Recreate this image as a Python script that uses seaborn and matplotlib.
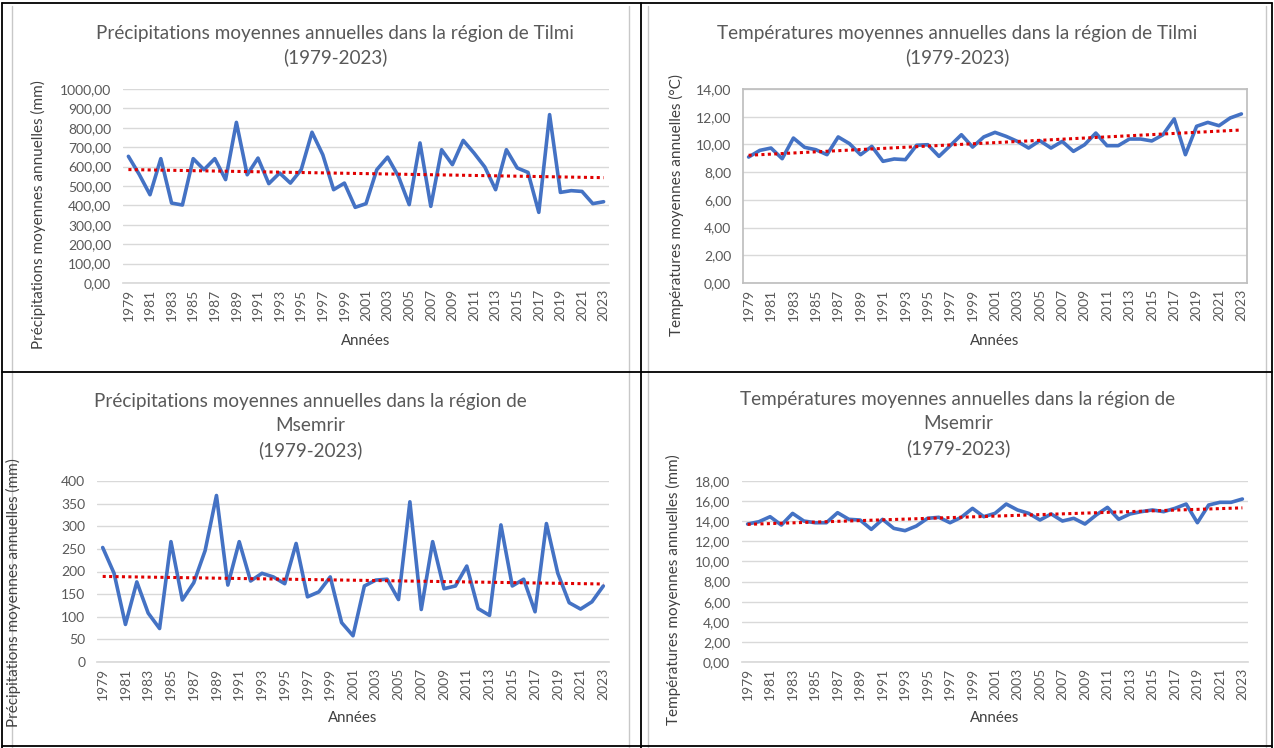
import numpy as np
import pandas as pd
import seaborn as sns
import matplotlib.pyplot as plt
from matplotlib.lines import Line2D
from matplotlib.ticker import FuncFormatter, MultipleLocator

# values
years = list(range(1979, 2024))

precip_tilmi = [653, 560, 455, 641, 412, 402, 641, 584, 641, 533,
                828, 558, 644, 512, 567, 515, 584, 777, 661, 481,
                515, 390, 409, 584, 649, 550, 404, 722, 395, 687,
                610, 735, 670, 598, 481, 687, 593, 570, 364, 868,
                467, 476, 472, 409, 419]

temp_tilmi = [9.09, 9.57, 9.74, 8.97, 10.46, 9.79, 9.62, 9.26, 10.54, 10.06,
              9.26, 9.86, 8.78, 8.95, 8.90, 9.94, 9.98, 9.14, 9.91, 10.70,
              9.81, 10.54, 10.87, 10.58, 10.22, 9.74, 10.27, 9.74, 10.22, 9.50,
              9.98, 10.82, 9.91, 9.91, 10.39, 10.39, 10.25, 10.70, 11.84, 9.26,
              11.31, 11.59, 11.35, 11.91, 12.20]

precip_msemrir = [253, 196, 83, 177, 108, 74, 266, 137, 175, 246,
                  368, 170, 266, 179, 196, 188, 173, 262, 144, 155,
                  188, 87, 58, 168, 181, 183, 138, 354, 116, 266,
                  162, 168, 212, 118, 103, 303, 168, 183, 111, 306,
                  196, 131, 117, 133, 168]

temp_msemrir = [13.72, 13.95, 14.45, 13.62, 14.78, 14.02, 13.85, 13.85, 14.85, 14.19,
                14.12, 13.19, 14.19, 13.29, 13.06, 13.52, 14.29, 14.39, 13.85, 14.39,
                15.28, 14.45, 14.78, 15.71, 15.12, 14.78, 14.12, 14.72, 14.02, 14.29,
                13.72, 14.62, 15.38, 14.19, 14.72, 14.95, 15.12, 14.95, 15.28, 15.71,
                13.85, 15.61, 15.88, 15.88, 16.21]

W, H = 1274, 748
BLUE = "#4472C4"
GRAY_TXT = "#595959"
FONT = "Lato"

sns.set_theme(style="white")
plt.rcParams["font.family"] = [FONT, "DejaVu Sans"]

fig = plt.figure(figsize=(W / 100, H / 100), dpi=100)


def px_rect(x0, y0, x1, y1):
    return [x0 / W, 1 - y1 / H, (x1 - x0) / W, (y1 - y0) / H]


def fmt_dec(v, pos):
    return f"{v:.2f}".replace(".", ",")


def fmt_int(v, pos):
    return f"{int(round(v))}"


def draw_panel(rect, values, ymax, ystep, formatter, ylabel, title_lines,
               title_x, title_y0, ylabel_x, ylabel_y, xlabel_y, boxed=False):
    ax = fig.add_axes(px_rect(*rect))
    df = pd.DataFrame({"idx": np.arange(len(years)), "val": values})
    sns.lineplot(data=df, x="idx", y="val", ax=ax, color=BLUE, lw=2.6)
    sns.regplot(data=df, x="idx", y="val", ax=ax, scatter=False, ci=None,
                line_kws={"color": "#E00000", "lw": 2.2, "ls": (0, (1, 1.1))})
    ax.set_xlim(-0.5, len(years) - 0.5)
    ax.set_ylim(0, ymax)
    ax.yaxis.set_major_locator(MultipleLocator(ystep))
    ax.yaxis.set_major_formatter(FuncFormatter(formatter))
    ax.set_xticks(np.arange(0, len(years), 2))
    ax.set_xticklabels([str(y) for y in years[::2]], rotation=90)
    ax.tick_params(axis="both", labelsize=10, colors=GRAY_TXT, length=0)
    ax.tick_params(axis="x", pad=4)
    ax.tick_params(axis="y", pad=8.5)
    ax.grid(axis="y", color="#D9D9D9", lw=1)
    ax.set_axisbelow(True)
    for s in ["top", "right", "left", "bottom"]:
        ax.spines[s].set_visible(boxed)
        ax.spines[s].set_color("#BFBFBF")
    if not boxed:
        ax.spines["bottom"].set_visible(True)
        ax.spines["bottom"].set_color("#D9D9D9")
    ax.set_xlabel("")
    ax.set_ylabel("")
    for i, line in enumerate(title_lines):
        fig.text(title_x / W, 1 - (title_y0 + i * 24.5) / H, line, ha="center",
                 va="center", fontsize=13.6, color=GRAY_TXT)
    fig.text(ylabel_x / W, 1 - ylabel_y / H, ylabel,
             rotation=90, ha="center", va="center", fontsize=11, color="#404040")
    fig.text(((rect[0] + rect[2]) / 2) / W, 1 - xlabel_y / H, "Années",
             ha="center", va="center", fontsize=10.8, color="#404040")
    return ax


draw_panel((123, 89, 609, 283), precip_tilmi, 1000, 100, fmt_dec,
           "Précipitations moyennes annuelles (mm)",
           ["Précipitations moyennes annuelles dans la région de Tilmi", "(1979-2023)"],
           335, 33, 38, 215, 341)

draw_panel((743, 89, 1247, 283), temp_tilmi, 14, 2, fmt_dec,
           "Températures moyennes annuelles (°C)",
           ["Températures moyennes annuelles dans la région de Tilmi", "(1979-2023)"],
           957, 33, 676, 205, 341, boxed=True)

draw_panel((97, 481, 609, 662), precip_msemrir, 400, 50, fmt_int,
           "Précipitations moyennes annuelles (mm)",
           ["Précipitations moyennes annuelles dans la région de", "Msemrir", "(1979-2023)"],
           310, 401, 13, 593, 718)

draw_panel((742, 481, 1248, 662), temp_msemrir, 18, 2, fmt_dec,
           "Températures moyennes annuelles (mm)",
           ["Températures moyennes annuelles dans la région de", "Msemrir", "(1979-2023)"],
           958, 399, 673, 590, 718)

# light chart-area borders
for x in [12, 629, 648, 1266]:
    fig.add_artist(Line2D([x / W, x / W], [0, 1 - 6 / H], color="#C8C8C8", lw=1))
# table cell borders
for x in [2, 641, 1272]:
    fig.add_artist(Line2D([x / W, x / W], [0, 1 - 3 / H], color="black", lw=1.3))
for y in [3, 372, 746]:
    fig.add_artist(Line2D([2 / W, 1272 / W], [1 - y / H, 1 - y / H], color="black", lw=1.3))

fig.savefig("out.png", dpi=100)
